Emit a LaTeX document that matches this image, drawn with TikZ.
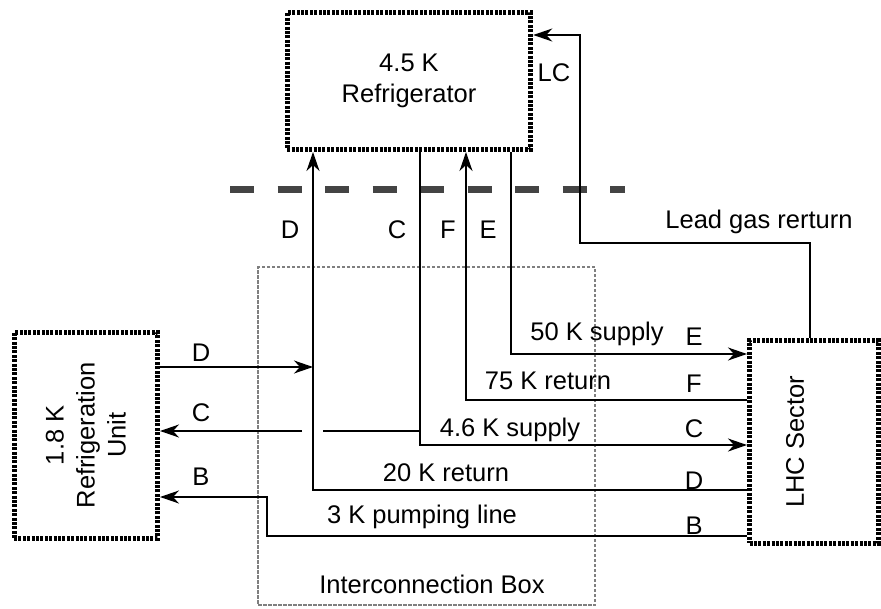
\documentclass[tikz,border=0pt]{standalone}
\usepackage{fontspec}
\setmainfont{Liberation Sans}
\usepackage{tikz}
\usetikzlibrary{calc,arrows.meta,positioning}
\definecolor{sepc}{HTML}{444444}
\definecolor{iboxc}{HTML}{7F7F7F}
\newcommand{\lblfont}{\fontsize{25.5}{31}\selectfont}
\tikzset{
  ar/.style={-{Stealth[length=19pt,width=13pt,inset=6pt]},line width=1.6pt},
  ln/.style={line width=1.6pt},
  hbox/.style={draw,line width=5pt,dash pattern=on 3pt off 1.4pt,inner sep=0pt,align=center,font=\lblfont},
  ibox/.style={draw=iboxc,line width=2.2pt,dash pattern=on 3.5pt off 1.5pt,inner sep=0pt},
  sep/.style={sepc,line width=6.5pt,dash pattern=on 24pt off 23.5pt},
  lbl/.style={font=\lblfont,inner sep=0pt,text height=18.3pt,text depth=0pt}
}

\begin{document}
\begin{tikzpicture}[x=1pt,y=-1pt]
\useasboundingbox (0,0) rectangle (881,608);
% boxes
\node[ibox,minimum width=337pt,minimum height=338pt] (icb) at (426.5,436) {};
\node[hbox,minimum width=243.5pt,minimum height=137pt] (refrig) at (409,81) {4.5 K\\Refrigerator};
\node[hbox,minimum width=143.5pt,minimum height=205.5pt] (unit) at (85.75,435.25) {};
\node[hbox,minimum width=128.5pt,minimum height=202.5pt] (lhc) at (813.75,441.75) {};
\node[font=\lblfont,align=center,rotate=90] (unittxt) at (unit) {1.8 K\\Refrigeration\\Unit};
\node[font=\lblfont,rotate=90] (lhctxt) at (795,442) {LHC Sector};
\node[lbl] (icbtxt) at (432,584) {Interconnection Box};
% separator
\draw[sep] (230,189.5) -- (625,189.5);
% routing points
\coordinate (e1) at (511,354);
\coordinate (f1) at (466,400);
\coordinate (c1) at (420,445);
\coordinate (d1) at (313,490);
\coordinate (b1) at (267,536);
\coordinate (b2) at (267,497);
\coordinate (dj) at (313,367);
\coordinate (cj) at (420,431);
\coordinate (cgr) at (323,431);
\coordinate (cgl) at (302,431);
\coordinate (lc1) at (810,243);
\coordinate (lc2) at (580,243);
\coordinate (lc3) at (580,35);
% lines
\draw[ar] (refrig.south -| e1) -- (e1) -- (e1 -| lhc.west);
\draw[ar] (lhc.west |- f1) -- (f1) -- (f1 |- refrig.south);
\draw[ar] (refrig.south -| c1) -- (c1) -- (c1 -| lhc.west);
\draw[ln] (cj) -- (cgr);
\draw[ar] (cgl) -- (cgl -| unit.east);
\draw[ar] (lhc.west |- d1) -- (d1) -- (d1 |- refrig.south);
\draw[ar] (unit.east |- dj) -- (dj);
\draw[ar] (lhc.west |- b1) -- (b1) -- (b2) -- (b2 -| unit.east);
\draw[ar] (lhc.north -| lc1) -- (lc1) -- (lc2) -- (lc3) -- (lc3 -| refrig.east);
% labels
\node[lbl] (tD) at (290,229) {D};
\node[lbl] (tC) at (397,229) {C};
\node[lbl] (tF) at (448,229) {F};
\node[lbl] (tE) at (488,229) {E};
\node[lbl] (tLC) at (554,72) {LC};
\node[lbl] (tlead) at (759,219) {Lead gas rerturn};
\node[lbl] (t50) at (597,331) {50 K supply};
\node[lbl] (rE) at (694,336) {E};
\node[lbl] (t75) at (548,380) {75 K return};
\node[lbl] (rF) at (694,383) {F};
\node[lbl] (t46) at (510,427) {4.6 K supply};
\node[lbl] (rC) at (694,428) {C};
\node[lbl] (t20) at (446,472) {20 K return};
\node[lbl] (rD) at (694,480) {D};
\node[lbl] (t3) at (422,514) {3 K pumping line};
\node[lbl] (rB) at (694,525) {B};
\node[lbl] (lD) at (201,352) {D};
\node[lbl] (lC) at (201,412) {C};
\node[lbl] (lB) at (201,476) {B};
\end{tikzpicture}
\end{document}
